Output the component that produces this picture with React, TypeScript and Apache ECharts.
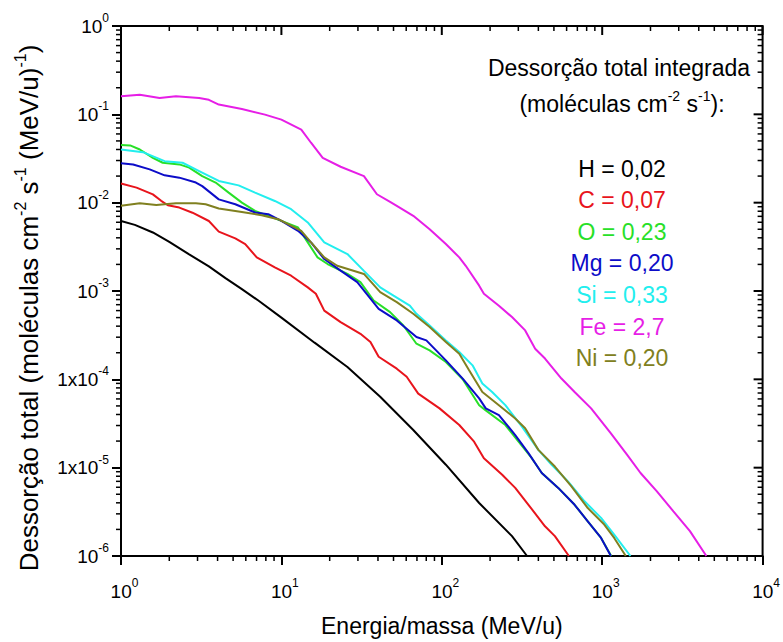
import React, { useEffect, useRef } from 'react';
import * as echarts from 'echarts';

const FONT = '"Liberation Sans", Arial, Helvetica, sans-serif';

// tick labels
const xTickBase = ['10', '10', '10', '10', '10'];
const xTickExp = ['0', '1', '2', '3', '4'];
const yTickBase = ['10', '10', '10', '10', '1x10', '1x10', '10'];
const yTickExp = ['0', '-1', '-2', '-3', '-4', '-5', '-6'];
const minorMantissas = [2, 3, 4, 5, 6, 7, 8, 9];
const xDecades = [1, 10, 100, 1000];
const yDecades = [1e-6, 1e-5, 1e-4, 1e-3, 1e-2, 1e-1];
const xMajor = [1, 10, 100, 1000, 10000];
const yMajor = [1e-6, 1e-5, 1e-4, 1e-3, 1e-2, 1e-1, 1];

// series: [Energia/massa (MeV/u), Dessorção total]
const hData = [
  [1, 6.2e-3], [1.22, 5.6e-3], [1.58, 4.6e-3], [2, 3.6e-3], [2.66, 2.6e-3], [3.53, 1.9e-3],
  [4.48, 1.4e-3], [5.67, 1.05e-3], [7.18, 7.8e-4], [10, 5.0e-4], [16.1, 2.6e-4], [25.8, 1.38e-4],
  [41.3, 6.35e-5], [66.4, 2.67e-5], [106, 1.08e-5], [171, 3.98e-6], [274, 1.68e-6], [340, 1.0e-6],
];
const cData = [
  [1, 1.65e-2], [1.25, 1.48e-2], [1.58, 1.24e-2], [1.78, 1.05e-2], [1.96, 9.35e-3], [2.31, 8.8e-3],
  [2.79, 7.7e-3], [3.53, 6.2e-3], [4.07, 4.7e-3], [5.16, 3.94e-3], [5.95, 3.4e-3], [7.02, 2.4e-3],
  [9.1, 1.85e-3], [11.5, 1.49e-3], [14.6, 1.1e-3], [16.4, 9.3e-4], [18.5, 6.0e-4], [23.4, 4.45e-4],
  [31.1, 3.28e-4], [35.9, 2.65e-4], [40.4, 1.8e-4], [52.4, 1.32e-4], [60.4, 1.07e-4], [71.3, 6.9e-5],
  [96.8, 4.69e-5], [128.5, 3.04e-5], [159, 1.97e-5], [183, 1.28e-5], [238, 8.3e-6], [287, 5.9e-6],
  [347, 3.8e-6], [440, 2.17e-6], [507, 1.68e-6], [620, 1.0e-6],
];
const oData = [
  [1, 4.5e-2], [1.14, 4.45e-2], [1.31, 4.0e-2], [1.58, 3.22e-2], [1.82, 2.83e-2], [2.31, 2.71e-2],
  [2.66, 2.49e-2], [3.21, 2.0e-2], [3.89, 1.69e-2], [4.69, 1.3e-2], [5.67, 1.0e-2], [6.85, 8.06e-3],
  [8.28, 7.08e-3], [10, 6.22e-3], [12.7, 5.24e-3], [14.6, 3.55e-3], [16.8, 2.4e-3], [19.4, 2.02e-3],
  [25.8, 1.56e-3], [31.1, 1.26e-3], [37.6, 7.8e-4], [47.6, 5.77e-4], [57.6, 4.07e-4], [69.5, 2.53e-4],
  [84, 2.13e-4], [106, 1.57e-4], [135, 1.0e-4], [171, 5.1e-5], [188, 4.45e-5], [249, 3.04e-5],
  [301, 1.97e-5], [364, 1.28e-5], [420, 8.7e-6], [532, 5.9e-6], [673, 3.8e-6], [813, 2.47e-6],
  [984, 1.6e-6], [1138, 1.0e-6],
];
const mgData = [
  [1, 2.8e-2], [1.19, 2.71e-2], [1.51, 2.38e-2], [1.87, 2.04e-2], [2.31, 1.92e-2], [2.93, 1.69e-2],
  [3.21, 1.54e-2], [4.07, 1.09e-2], [5.16, 9.6e-3], [6.85, 7.73e-3], [8.28, 7.4e-3], [10, 6.22e-3],
  [12.7, 4.8e-3], [15.3, 3.55e-3], [18.5, 2.3e-3], [23.4, 1.7e-3], [29.7, 1.26e-3], [40.4, 6.28e-4],
  [52.4, 4.64e-4], [69.5, 3.01e-4], [80.1, 2.76e-4], [106, 1.64e-4], [135, 1.02e-4], [171, 6.08e-5],
  [188, 4.69e-5], [227, 3.94e-5], [287, 2.34e-5], [347, 1.46e-5], [420, 8.7e-6], [532, 5.9e-6],
  [673, 3.8e-6], [813, 2.47e-6], [984, 1.6e-6], [1133, 1.0e-6],
];
const siData = [
  [1, 4.0e-2], [1.37, 3.73e-2], [1.87, 2.95e-2], [2.42, 2.83e-2], [3.07, 2.28e-2], [4.07, 1.76e-2],
  [5.41, 1.57e-2], [6.85, 1.3e-2], [9.1, 1.045e-2], [11.5, 8.43e-3], [14.6, 5.97e-3], [18.5, 3.55e-3],
  [25.8, 2.62e-3], [32.7, 1.69e-3], [41.3, 1.1e-3], [50, 8.87e-4], [63.2, 6.84e-4], [69.5, 5.52e-4],
  [84, 4.07e-4], [106, 2.76e-4], [128.5, 2.04e-4], [155.5, 1.44e-4], [179, 8.97e-5], [206, 7.2e-5],
  [249, 5.1e-5], [316, 2.91e-5], [400, 1.59e-5], [484, 1.08e-5], [612, 7.0e-6], [776, 4.16e-6],
  [984, 2.7e-6], [1188, 1.75e-6], [1500, 1.0e-6],
];
const feData = [
  [1, 0.16], [1.31, 0.167], [1.74, 0.153], [2.2, 0.16], [3.07, 0.153], [3.53, 0.146], [4.07, 0.129],
  [5.67, 0.115], [7.9, 0.0993], [10, 0.0871], [13.3, 0.0672], [15.3, 0.0477], [18.1, 0.0322],
  [23.4, 0.0255], [32.7, 0.02], [39.4, 0.01245], [47.6, 0.0102], [52.4, 9.2e-3], [66.4, 7.1e-3],
  [84, 5.0e-3], [106, 3.4e-3], [128.5, 2.4e-3], [141, 1.93e-3], [171, 1.15e-3], [183, 9.3e-4],
  [227, 6.8e-4], [274, 5.07e-4], [331, 3.58e-4], [382, 2.22e-4], [440, 1.72e-4], [557, 1.02e-4],
  [673, 7.2e-5], [853, 4.69e-5], [1133, 2.45e-5], [1435, 1.39e-5], [1734, 8.7e-6], [2193, 5.4e-6],
  [2780, 3.2e-6], [3524, 1.91e-6], [4460, 1.0e-6],
];
const niData = [
  [1, 9.2e-3], [1.31, 9.85e-3], [1.66, 9.4e-3], [2.2, 9.85e-3], [2.93, 9.85e-3], [3.37, 9.6e-3],
  [4.07, 8.6e-3], [5.67, 7.85e-3], [7.53, 7.2e-3], [9.55, 6.5e-3], [13.3, 4.8e-3], [15.3, 3.55e-3],
  [18.5, 2.4e-3], [22.3, 1.93e-3], [32.7, 1.56e-3], [41.3, 9.7e-4], [52.4, 7.48e-4], [66.4, 5.52e-4],
  [84, 3.91e-4], [106, 2.65e-4], [128.5, 1.95e-4], [148, 1.27e-4], [179, 7.2e-5], [227, 5.1e-5],
  [287, 3.61e-5], [331, 2.79e-5], [400, 1.59e-5], [507, 1.03e-5], [643, 6.14e-6], [813, 3.49e-6],
  [1030, 2.27e-6], [1188, 1.6e-6], [1403, 1.0e-6],
];

const seriesNames = ['H', 'C', 'O', 'Mg', 'Si', 'Fe', 'Ni'];
const seriesData = [hData, cData, oData, mgData, siData, feData, niData];
const seriesColors = ['#000000', '#e8141c', '#28e028', '#0c0cc8', '#22eeee', '#e61ee6', '#808020'];
const legendTexts = ['H = 0,02', 'C = 0,07', 'O = 0,23', 'Mg = 0,20', 'Si = 0,33', 'Fe = 2,7', 'Ni = 0,20'];

const xMinor = xDecades.flatMap((d) => minorMantissas.map((m) => m * d));
const yMinor = yDecades.flatMap((d) => minorMantissas.map((m) => m * d));

// tick marks placed through the axes' own scales
function tickSeries(data: number[][], dx: number, dy: number, width: number) {
  return {
    type: 'custom',
    clip: false,
    z: 10,
    data,
    renderItem: (_params: any, api: any) => {
      const p = api.coord([api.value(0), api.value(1)]);
      return {
        type: 'line',
        shape: { x1: p[0], y1: p[1], x2: p[0] + dx, y2: p[1] + dy },
        style: { stroke: '#000', lineWidth: width },
      };
    },
  };
}

export default function App() {
  const ref = useRef<HTMLDivElement>(null);
  useEffect(() => {
    const chart = echarts.init(ref.current!, null, { renderer: 'svg' });
    const tickRich = {
      b: { fontSize: 19, fontFamily: FONT, color: '#000', lineHeight: 28 },
      bx: { fontSize: 19, fontFamily: FONT, color: '#000', lineHeight: 28, padding: [0, 0, 0, 7] },
      s: { fontSize: 12, fontFamily: FONT, color: '#000', lineHeight: 12, verticalAlign: 'top' },
    };
    const superRich = (big: number, small: number, lh: number, fill: string) => ({
      b: { fontSize: big, fontFamily: FONT, fill, lineHeight: lh },
      s: { fontSize: small, fontFamily: FONT, fill, lineHeight: small, verticalAlign: 'top' },
    });

    const graphic: any[] = [
      {
        type: 'text', x: 619, y: 68,
        style: { text: 'Dessorção total integrada', fontSize: 23, fontFamily: FONT, fill: '#000', align: 'center', verticalAlign: 'middle' },
      },
      {
        type: 'text', x: 622, y: 104,
        style: {
          text: '{b|(moléculas cm}{s|-2}{b| s}{s|-1}{b|):}',
          rich: superRich(23, 14, 30, '#000'),
          align: 'center', verticalAlign: 'middle',
        },
      },
      {
        type: 'text', x: 29, y: 308, rotation: Math.PI / 2,
        style: {
          text: '{b|Dessorção total (moléculas cm}{s|-2}{b| s}{s|-1}{b| (MeV/u)}{s|-1}{b|)}',
          rich: superRich(26, 16, 34, '#000'),
          align: 'center', verticalAlign: 'middle',
        },
      },
      ...legendTexts.map((t, i) => ({
        type: 'text', x: 622, y: 168.5 + i * 31.6,
        style: { text: t, fontSize: 23, fontFamily: FONT, fill: seriesColors[i], align: 'center', verticalAlign: 'middle' },
      })),
    ];

    const option: any = {
      animation: false,
      grid: { left: 121, right: 13, top: 26, bottom: 84, show: true, borderColor: '#000', borderWidth: 2 },
      xAxis: {
        type: 'log', min: 1, max: 10000,
        splitLine: { show: false },
        axisLine: { show: true, onZero: false, lineStyle: { color: '#000', width: 2 } },
        axisTick: { show: true, length: 9, lineStyle: { color: '#000', width: 2 } },
        name: 'Energia/massa (MeV/u)', nameLocation: 'middle', nameGap: 58,
        nameTextStyle: { fontSize: 23, fontFamily: FONT, color: '#000' },
        axisLabel: {
          margin: 21,
          formatter: (v: number) => {
            const k = Math.round(Math.log10(v));
            return `{bx|${xTickBase[k]}}{s|${xTickExp[k]}}`;
          },
          rich: tickRich,
        },
      },
      yAxis: {
        type: 'log', min: 1e-6, max: 1,
        splitLine: { show: false },
        axisLine: { show: true, onZero: false, lineStyle: { color: '#000', width: 2 } },
        axisTick: { show: true, length: 9, lineStyle: { color: '#000', width: 2 } },
        axisLabel: {
          margin: 12,
          formatter: (v: number) => {
            const k = Math.round(-Math.log10(v));
            return `{b|${yTickBase[k]}}{s|${yTickExp[k]}}`;
          },
          rich: tickRich,
        },
      },
      series: [
        ...seriesData.map((d, i) => ({
          name: seriesNames[i],
          type: 'line',
          data: d,
          showSymbol: false,
          symbol: 'none',
          lineStyle: { color: seriesColors[i], width: 2 },
          itemStyle: { color: seriesColors[i] },
          z: 3,
        })),
        tickSeries(xMinor.map((v) => [v, 1e-6]), 0, 5, 1.5),
        tickSeries(xMinor.map((v) => [v, 1]), 0, 5, 1.5),
        tickSeries(xMajor.map((v) => [v, 1]), 0, 9, 2),
        tickSeries(yMinor.map((v) => [1, v]), -5, 0, 1.5),
        tickSeries(yMinor.map((v) => [10000, v]), -5, 0, 1.5),
        tickSeries(yMajor.map((v) => [10000, v]), -9, 0, 2),
      ],
      graphic,
    };
    chart.setOption(option);
    return () => chart.dispose();
  }, []);
  return (
    <div
      ref={ref}
      style={{ position: 'absolute', left: 0, top: 0, width: 783, height: 642, background: '#fff' }}
    />
  );
}
